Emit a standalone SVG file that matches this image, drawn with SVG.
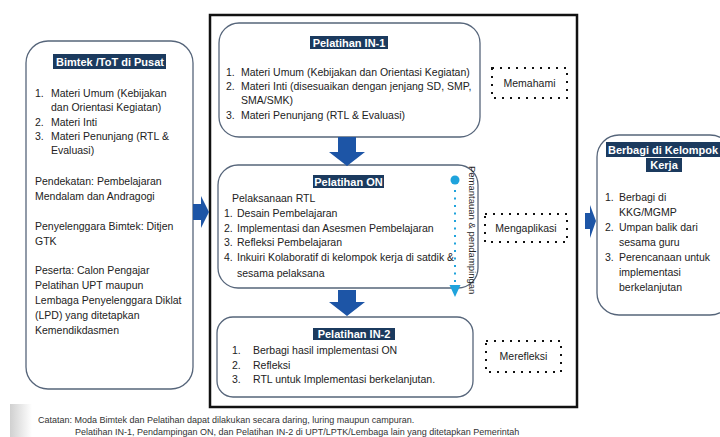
<svg xmlns="http://www.w3.org/2000/svg" width="720" height="437" viewBox="0 0 720 437">
<defs>
<linearGradient id="shade" x1="0" y1="0" x2="1" y2="0">
<stop offset="0" stop-color="#d0d0d0"/>
<stop offset="1" stop-color="#ffffff"/>
</linearGradient>
</defs>
<style>
.box{fill:#fff;stroke:#56657a;stroke-width:1.3}
.t{font-family:"Liberation Sans",Arial,sans-serif;font-size:10.5px;fill:#222}
.h{font-family:"Liberation Sans",Arial,sans-serif;font-size:11px;font-weight:bold;fill:#fff}
.hb{fill:#1b3a5e}
.dot{fill:none;stroke:#111;stroke-width:2;stroke-dasharray:2 6}
.arr{fill:#1d55a6}
.note{font-family:"Liberation Sans",Arial,sans-serif;font-size:9px;fill:#333}
</style>
<rect width="720" height="437" fill="#fff"/>
<rect x="10" y="404" width="22" height="33" fill="url(#shade)"/>

<g id="frame">
<rect x="210" y="15" width="367" height="392" fill="none" stroke="#111" stroke-width="2.5"/>
</g>

<g id="bimtek">
<rect class="box" x="26" y="41" width="167" height="348" rx="22"/>
<rect class="hb" x="53" y="54" width="113" height="15"/>
<text class="h" x="110" y="65.5" text-anchor="middle">Bimtek /ToT di Pusat</text>
<text class="t" x="35" y="97">1.</text><text class="t" x="51" y="97">Materi Umum (Kebijakan</text>
<text class="t" x="51" y="111">dan Orientasi Kegiatan)</text>
<text class="t" x="35" y="126">2.</text><text class="t" x="51" y="126">Materi Inti</text>
<text class="t" x="35" y="140">3.</text><text class="t" x="51" y="140">Materi Penunjang (RTL &amp;</text>
<text class="t" x="51" y="154">Evaluasi)</text>
<text class="t" x="35" y="185">Pendekatan: Pembelajaran</text>
<text class="t" x="35" y="200">Mendalam dan Andragogi</text>
<text class="t" x="35" y="230">Penyelenggara Bimtek: Ditjen</text>
<text class="t" x="35" y="245">GTK</text>
<text class="t" x="35" y="274">Peserta: Calon Pengajar</text>
<text class="t" x="35" y="289">Pelatihan UPT maupun</text>
<text class="t" x="35" y="304">Lembaga Penyelenggara Diklat</text>
<text class="t" x="35" y="319">(LPD) yang ditetapkan</text>
<text class="t" x="35" y="334">Kemendikdasmen</text>
</g>

<g id="in1">
<rect class="box" x="219" y="23" width="261" height="114" rx="20"/>
<rect class="hb" x="310" y="36" width="78" height="13"/>
<text class="h" x="349" y="46.5" text-anchor="middle">Pelatihan  IN-1</text>
<text class="t" x="226" y="76">1.</text><text class="t" x="241" y="76">Materi Umum (Kebijakan dan Orientasi Kegiatan)</text>
<text class="t" x="226" y="90">2.</text><text class="t" x="241" y="90">Materi Inti (disesuaikan dengan jenjang SD, SMP,</text>
<text class="t" x="241" y="104">SMA/SMK)</text>
<text class="t" x="226" y="119">3.</text><text class="t" x="241" y="119">Materi Penunjang (RTL &amp; Evaluasi)</text>
</g>

<g id="on">
<rect class="box" x="218" y="165" width="260" height="123" rx="20"/>
<rect class="hb" x="313" y="175" width="71" height="13"/>
<text class="h" x="348.5" y="185.5" text-anchor="middle">Pelatihan ON</text>
<text class="t" x="232" y="202">Pelaksanaan RTL</text>
<text class="t" x="224" y="217">1.</text><text class="t" x="237" y="217">Desain Pembelajaran</text>
<text class="t" x="224" y="232">2.</text><text class="t" x="237" y="232">Implementasi dan Asesmen Pembelajaran</text>
<text class="t" x="224" y="246">3.</text><text class="t" x="237" y="246">Refleksi Pembelajaran</text>
<text class="t" x="224" y="261">4.</text><text class="t" x="237" y="261">Inkuiri Kolaboratif di kelompok kerja di satdik &amp;</text>
<text class="t" x="237" y="277">sesama pelaksana</text>
</g>

<g id="pemantauan">
<circle cx="455" cy="180" r="4.5" fill="#1fa3dc"/>
<line x1="455" y1="190" x2="455" y2="284" stroke="#1fa3dc" stroke-width="2" stroke-dasharray="2 5.5"/>
<polygon points="449.5,285 460.5,285 455,297" fill="#1fa3dc"/>
<text class="t" style="font-size:9.5px" transform="translate(469,166) rotate(90)">Pemantauan &amp; pendampingan</text>
</g>

<g id="in2">
<rect class="box" x="217" y="317" width="256" height="80" rx="16"/>
<rect class="hb" x="313" y="328" width="82" height="12"/>
<text class="h" x="354" y="338" text-anchor="middle">Pelatihan IN-2</text>
<text class="t" x="232" y="354">1.</text><text class="t" x="253" y="354">Berbagi hasil implementasi ON</text>
<text class="t" x="232" y="369">2.</text><text class="t" x="253" y="369">Refleksi</text>
<text class="t" x="232" y="383">3.</text><text class="t" x="253" y="383">RTL untuk Implementasi  berkelanjutan.</text>
</g>

<g id="memahami">
<rect class="dot" x="492" y="68" width="75" height="30"/>
<text class="t" x="529.5" y="87" text-anchor="middle">Memahami</text>
</g>
<g id="mengaplikasi">
<rect class="dot" x="485" y="214" width="82" height="28"/>
<text class="t" x="526" y="232" text-anchor="middle">Mengaplikasi</text>
</g>
<g id="merefleksi">
<rect class="dot" x="486" y="341" width="75" height="31"/>
<text class="t" x="523.5" y="360" text-anchor="middle">Merefleksi</text>
</g>

<g id="berbagi">
<rect class="box" x="597" y="135" width="135" height="180" rx="22"/>
<rect class="hb" x="606" y="142" width="114" height="15"/>
<text class="h" x="663" y="153.5" text-anchor="middle">Berbagi di Kelompok</text>
<rect class="hb" x="646" y="158" width="36" height="14"/>
<text class="h" x="664" y="169" text-anchor="middle">Kerja</text>
<text class="t" x="605" y="201">1.</text><text class="t" x="619" y="201">Berbagi di</text>
<text class="t" x="619" y="216">KKG/MGMP</text>
<text class="t" x="605" y="231">2.</text><text class="t" x="619" y="231">Umpan balik dari</text>
<text class="t" x="619" y="246">sesama guru</text>
<text class="t" x="605" y="261">3.</text><text class="t" x="619" y="261">Perencanaan untuk</text>
<text class="t" x="619" y="276">implementasi</text>
<text class="t" x="619" y="291">berkelanjutan</text>
</g>

<g id="connectors">
<polygon class="arr" points="193,204 201,204 201,196 209,212 201,228 201,220 193,220"/>
<polygon class="arr" points="585,213 590,213 590,205 596,221 590,238 590,229 585,229"/>
<polygon class="arr" points="338,137 356,137 356,152 365,152 347,166 329,152 338,152"/>
<polygon class="arr" points="338,290 356,290 356,302 365,302 347,316 329,302 338,302"/>
</g>

<g id="note">
<text class="note" x="38" y="423">Catatan:  Moda Bimtek dan Pelatihan dapat dilakukan secara daring, luring maupun campuran.</text>
<text class="note" x="75" y="435">Pelatihan  IN-1, Pendampingan ON, dan Pelatihan IN-2 di UPT/LPTK/Lembaga lain yang ditetapkan Pemerintah</text>
</g>
</svg>
